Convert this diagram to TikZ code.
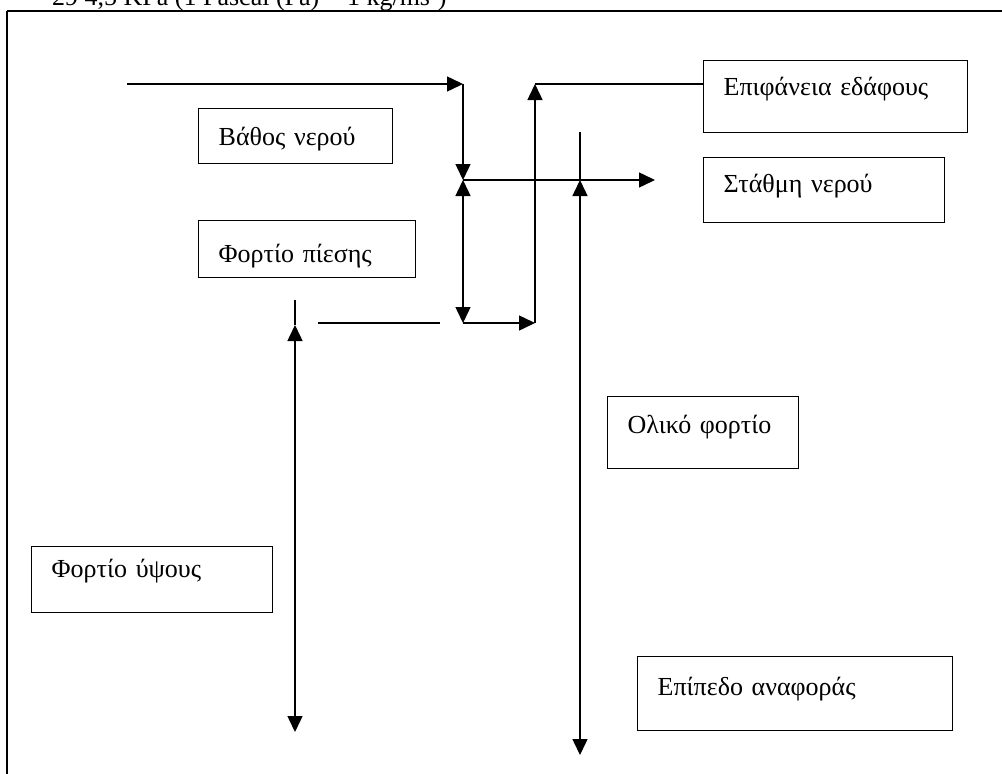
\documentclass[tikz,border=0pt]{standalone}
\usepackage{fontspec}
\setmainfont{Liberation Serif}
\usepackage{tikz}
\usetikzlibrary{arrows.meta, calc}
\tikzset{
    box/.style={rectangle, draw=black, line width=1.4pt, anchor=north west, align=left, inner xsep=20pt, inner ysep=0pt, font=\fontsize{26}{30}\selectfont},
    arrow/.style={-{Triangle[length=16pt, width=15pt]}, line width=1.5pt},
    dblarrow/.style={{Triangle[length=16pt, width=15pt]}-{Triangle[length=16pt, width=15pt]}, line width=1.5pt},
    plain/.style={line width=1.5pt}
}
\begin{document}
\begin{tikzpicture}[x=1pt, y=-1pt]
    \useasboundingbox (0,0) rectangle (1002,774);
    \clip (0,0) rectangle (1002,774);
    % page frame and cut caption line
    \draw[line width=2.6pt] (7,11) -- (1002,11);
    \draw[line width=1.4pt] (7,11) -- (7,774);
    \node[anchor=base west, inner sep=0pt, font=\fontsize{26}{30}\selectfont] (cap) at (52,5) {29 4,5 KPa (1 Pascal (Pa) = 1 kg/ms²)};

    % labels
    \node[box, text width=154pt, text height=37pt, text depth=18pt] (depth) at (198,108) {Βάθος νερού};
    \node[box, text width=177pt, text height=42pt, text depth=15pt] (phead) at (198,220) {Φορτίο πίεσης};
    \node[box, text width=224pt, text height=35pt, text depth=37pt] (ground) at (703,60) {Επιφάνεια εδάφους};
    \node[box, text width=201pt, text height=35pt, text depth=30pt] (wlevel) at (703,157) {Στάθμη νερού};
    \node[box, text width=151pt, text height=37pt, text depth=35pt] (total) at (607,396) {Ολικό φορτίο};
    \node[box, text width=201pt, text height=31pt, text depth=35pt] (ehead) at (31,546) {Φορτίο ύψους};
    \node[box, text width=275pt, text height=39pt, text depth=35pt] (datum) at (637,656) {Επίπεδο αναφοράς};

    % levels
    \coordinate (surfL) at (127,84);
    \coordinate (surfR) at (463,84);
    \coordinate (wl) at (463,180);
    \coordinate (wlR) at (655,180);
    \coordinate (pbot) at (463,323);
    \coordinate (pbotR) at (535,323);
    \coordinate (gtop) at (535,84);
    \coordinate (ttop) at (580,132);
    \coordinate (tmid) at (580,180);
    \coordinate (tbot) at (580,755);
    \coordinate (etop) at (295,300);
    \coordinate (emid) at (295,325);
    \coordinate (ebot) at (295,732);
    \coordinate (refL) at (318,323);
    \coordinate (refR) at (440,323);

    \draw[arrow] (surfL) -- (surfR);
    \draw[arrow] (surfR) -- (wl);
    \draw[dblarrow] (wl) -- (pbot);
    \draw[arrow] (pbot) -- (pbotR);
    \draw[arrow] (pbotR) -- (gtop);
    \draw[plain] (gtop) -- (gtop -| ground.west);
    \draw[arrow] (wl) -- (wlR);
    \draw[plain] (ttop) -- (tmid);
    \draw[dblarrow] (tmid) -- (tbot);
    \draw[plain] (etop) -- (emid);
    \draw[dblarrow] (emid) -- (ebot);
    \draw[plain] (refL) -- (refR);
\end{tikzpicture}
\end{document}
